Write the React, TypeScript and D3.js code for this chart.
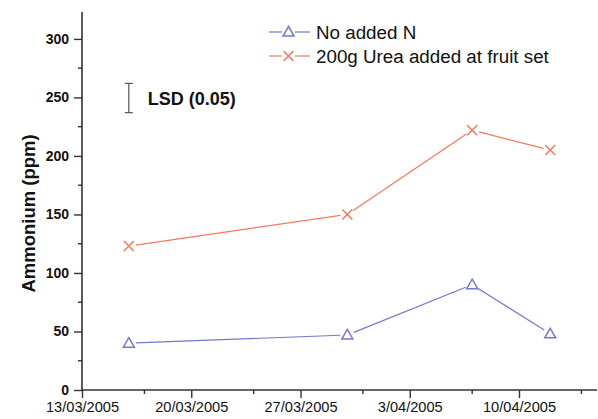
import React, { useEffect, useRef } from 'react';
import * as d3 from 'd3';

const WIDTH = 598;
const HEIGHT = 419;
const FONT = '"Liberation Sans", Arial, sans-serif';

// sampling dates and ammonium readings (ppm)
const sampleDates = ['2005-03-16', '2005-03-30', '2005-04-07', '2005-04-12'];
const noAddedN = [40, 47, 90, 48];
const ureaAdded = [123, 150, 222, 205];

const seriesNames = ['No added N', '200g Urea added at fruit set'];
const seriesColors = ['#7378cc', '#f4785c'];

const lsdValues = [237, 262];
const lsdLabel = 'LSD (0.05)';

const yTicks = [0, 50, 100, 150, 200, 250, 300];
const yMinorTicks = [25, 75, 125, 175, 225, 275];
const xTicks = ['2005-03-13', '2005-03-20', '2005-03-27', '2005-04-03', '2005-04-10'];
const xMinorTicks = ['2005-03-17', '2005-03-24', '2005-03-31', '2005-04-07', '2005-04-14'];

const parse = d3.timeParse('%Y-%m-%d');
const fmt = d3.timeFormat('%-d/%m/%Y');

const MARGIN = { left: 82, top: 12, bottom: 29 };

/**
 * Trim a segment so it stops short of the markers
 */
function trimmed(x1: number, y1: number, x2: number, y2: number, gap: number) {
  const dx = x2 - x1, dy = y2 - y1;
  const len = Math.sqrt(dx * dx + dy * dy);
  const ux = dx / len, uy = dy / len;
  return [x1 + ux * gap, y1 + uy * gap, x2 - ux * gap, y2 - uy * gap];
}

function Chart() {
  const ref = useRef<SVGSVGElement>(null);

  useEffect(() => {
    const svg = d3.select(ref.current);
    svg.selectAll('*').remove();

    const x = d3.scaleTime()
      .domain([parse('2005-03-13')!, parse('2005-04-15')!])
      .range([MARGIN.left, MARGIN.left + 33 * 15.607]);
    const y = d3.scaleLinear().domain([0, 323]).range([HEIGHT - MARGIN.bottom, MARGIN.top]);

    const axisColor = '#333';

    // y axis
    const yAxis = svg.append('g').attr('transform', `translate(${MARGIN.left},0)`);
    yAxis.call(d3.axisLeft(y).tickValues(yTicks).tickSize(8).tickSizeOuter(0).tickPadding(5))
      .call(g => g.select('.domain').remove());
    yAxis.selectAll('.tick line').attr('stroke', axisColor).attr('stroke-width', 1.4);
    yAxis.selectAll('.tick text')
      .attr('font-family', FONT).attr('font-size', 14).attr('font-weight', 'bold').attr('fill', '#111');
    yAxis.selectAll('.minor').data(yMinorTicks).enter().append('line')
      .attr('x1', -4).attr('x2', 0).attr('y1', d => y(d)).attr('y2', d => y(d))
      .attr('stroke', axisColor).attr('stroke-width', 1.4);
    yAxis.append('line').attr('x1', 0).attr('x2', 0).attr('y1', y(0)).attr('y2', y.range()[1])
      .attr('stroke', axisColor).attr('stroke-width', 1.6);

    // x axis
    const xAxis = svg.append('g').attr('transform', `translate(0,${y(0)})`);
    xAxis.call(d3.axisBottom(x).tickValues(xTicks.map(d => parse(d)!)).tickFormat(d => fmt(d as Date))
      .tickSize(8).tickSizeOuter(0).tickPadding(4))
      .call(g => g.select('.domain').remove());
    xAxis.selectAll('.tick line').attr('stroke', axisColor).attr('stroke-width', 1.4);
    xAxis.selectAll('.tick text')
      .attr('font-family', FONT).attr('font-size', 14.6).attr('fill', '#111');
    xAxis.selectAll('.minor').data(xMinorTicks).enter().append('line')
      .attr('x1', d => x(parse(d)!)).attr('x2', d => x(parse(d)!)).attr('y1', 0).attr('y2', 4)
      .attr('stroke', axisColor).attr('stroke-width', 1.4);
    xAxis.append('line').attr('x1', MARGIN.left).attr('x2', x.range()[1]).attr('y1', 0).attr('y2', 0)
      .attr('stroke', axisColor).attr('stroke-width', 1.6);

    // axis title
    svg.append('text')
      .attr('transform', `translate(35,${(y(0) + y(300)) / 2 - 1}) rotate(-90)`)
      .attr('text-anchor', 'middle')
      .attr('font-family', FONT).attr('font-size', 18.5).attr('font-weight', 'bold').attr('fill', '#111')
      .text('Ammonium (ppm)');

    // series
    const series = [noAddedN, ureaAdded];
    const dates = sampleDates.map(d => parse(d)!);
    series.forEach((vals, si) => {
      const g = svg.append('g');
      const pts = vals.map((v, i) => [x(dates[i]), y(v)]);
      for (let i = 0; i < pts.length - 1; i++) {
        const [a, b, c, d] = trimmed(pts[i][0], pts[i][1], pts[i + 1][0], pts[i + 1][1], 7);
        g.append('line').attr('x1', a).attr('y1', b).attr('x2', c).attr('y2', d)
          .attr('stroke', seriesColors[si]).attr('stroke-width', 1.2);
      }
      pts.forEach(([px, py]) => drawMarker(g, si, px, py));
    });

    // LSD bar
    const lx = x(dates[0]);
    const lsd = svg.append('g').attr('stroke', '#555').attr('stroke-width', 1.2);
    lsd.append('line').attr('x1', lx).attr('x2', lx).attr('y1', y(lsdValues[0])).attr('y2', y(lsdValues[1]));
    lsdValues.forEach(v => {
      lsd.append('line').attr('x1', lx - 4).attr('x2', lx + 4).attr('y1', y(v)).attr('y2', y(v));
    });
    svg.append('text').attr('x', lx + 19).attr('y', y(d3.mean(lsdValues)!) + 6.5)
      .attr('font-family', FONT).attr('font-size', 18).attr('font-weight', 'bold').attr('fill', '#111')
      .text(lsdLabel);

    // legend
    const legend = svg.append('g');
    seriesNames.forEach((name, i) => {
      const cy = 32 + i * 24;
      legend.append('line').attr('x1', 269).attr('x2', 282).attr('y1', cy).attr('y2', cy)
        .attr('stroke', seriesColors[i]).attr('stroke-width', 1.2);
      legend.append('line').attr('x1', 295).attr('x2', 310).attr('y1', cy).attr('y2', cy)
        .attr('stroke', seriesColors[i]).attr('stroke-width', 1.2);
      drawMarker(legend, i, 288.5, cy);
      legend.append('text').attr('x', 316).attr('y', cy + 6.5)
        .attr('font-family', FONT).attr('font-size', 18.8).attr('fill', '#111')
        .text(name);
    });
  }, []);

  return <svg ref={ref} width={WIDTH} height={HEIGHT}
    style={{ position: 'absolute', left: 0, top: 0, background: '#fff' }} />;
}

function drawMarker(g: any, si: number, px: number, py: number) {
  const c = seriesColors[si];
  if (si === 0) {
    g.append('path')
      .attr('d', `M${px},${py - 5.5}L${px + 5.5},${py + 4}L${px - 5.5},${py + 4}Z`)
      .attr('fill', 'none').attr('stroke', c).attr('stroke-width', 1.5);
  } else {
    const s = 5;
    g.append('path')
      .attr('d', `M${px - s},${py - s}L${px + s},${py + s}M${px - s},${py + s}L${px + s},${py - s}`)
      .attr('stroke', c).attr('stroke-width', 1.5);
  }
}

export default function App() {
  return <Chart />;
}
